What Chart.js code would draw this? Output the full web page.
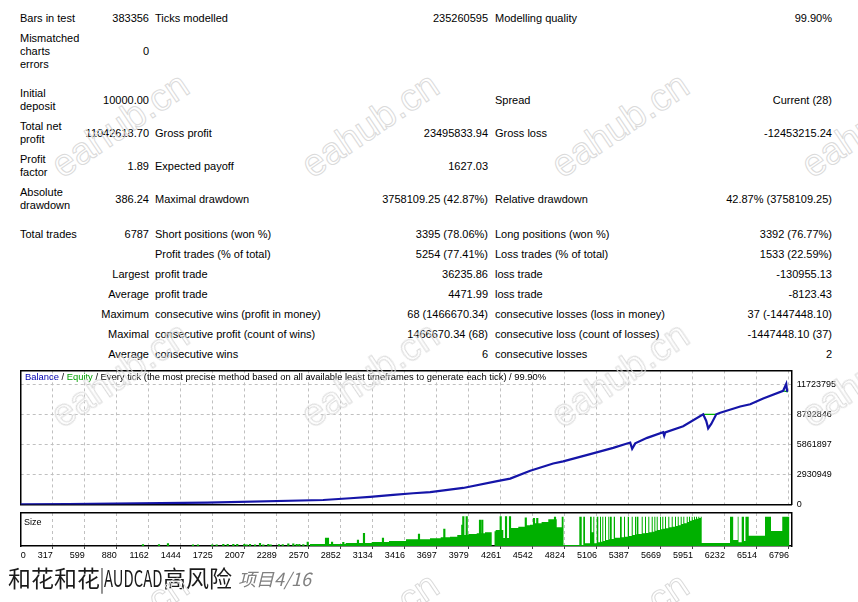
<!DOCTYPE html>
<html lang="zh">
<head>
<meta charset="utf-8">
<title>和花和花|AUDCAD高风险 - Strategy Tester Report</title>
<script src="https://cdn.jsdelivr.net/npm/chart.js@4.4.1/dist/chart.umd.min.js"></script>
<style>
html,body{margin:0;padding:0;background:#fff;}
body{width:858px;height:602px;position:relative;overflow:hidden;font-family:"Liberation Sans",Arial,sans-serif;color:#000;}
.c{position:absolute;font-size:11px;line-height:13px;white-space:pre;}
canvas{position:absolute;left:0;}
#hdr{position:absolute;left:25px;top:371px;font-size:9.4px;line-height:12px;white-space:nowrap;z-index:3;}
#sizeLbl{position:absolute;left:24px;top:516px;font-size:9px;line-height:12px;z-index:3;}
.ttl{position:absolute;top:565px;font-family:"Noto Sans CJK SC",sans-serif;font-size:23px;line-height:25px;color:#1a1a1a;white-space:nowrap;}
#sub{position:absolute;left:238px;top:567px;font-family:"Noto Sans CJK SC",sans-serif;font-size:18px;line-height:22px;color:#808080;font-style:italic;white-space:nowrap;}
.wm{position:absolute;font-size:38px;font-family:"Liberation Sans",Arial,sans-serif;color:transparent;-webkit-text-stroke:1px #dadada;white-space:nowrap;pointer-events:none;z-index:6;transform-origin:50% 50%;}
</style>
</head>
<body>
<div id="table"></div>
<div id="hdr"><span style="color:#0000b0">Balance</span> / <span style="color:#00a000">Equity</span> / Every tick (the most precise method based on all available least timeframes to generate each tick) / 99.90%</div>
<canvas id="main" width="858" height="155" style="top:360px;width:858px;height:155px;"></canvas>
<canvas id="size" width="858" height="62" style="top:505px;width:858px;height:62px;"></canvas>
<div id="sizeLbl">Size</div>
<div class="ttl" style="left:8px;">和花和花</div>
<div class="ttl" style="left:100px;transform:scaleX(0.645);transform-origin:0 50%;">|AUDCAD</div>
<div class="ttl" style="left:163px;">高风险</div>
<div id="sub">项目4/16</div>
<div id="wms"></div>
<script>
// ---------------- DATA ----------------
const xTickLabels = ['0','317','599','880','1162','1444','1725','2007','2289','2570','2852','3134','3416','3697','3979','4261','4542','4824','5106','5387','5669','5951','6232','6514','6796'];
const yTickValues = [0, 2930949, 5861897, 8792846, 11723795];

// balance curve (trade number, balance)
const balanceTrades = [0, 451, 1676, 2696, 2934, 3110, 3313, 3489, 3639, 3929, 4228, 4343, 4519, 4721, 4809, 5047, 5249, 5399, 5416, 5443, 5548, 5689, 5698, 5707, 5865, 6041, 6068, 6085, 6112, 6156, 6191, 6367, 6455, 6569, 6745, 6772, 6780, 6787];
const balanceValues = [10000, 50000, 200000, 450000, 620000, 765000, 950000, 1110000, 1230000, 1630000, 2300000, 2550000, 3320000, 4030000, 4240000, 4950000, 5560000, 6080000, 5470000, 6000000, 6540000, 7100000, 6750000, 7080000, 7680000, 8850000, 8200000, 7470000, 7900000, 8850000, 9000000, 9610000, 9830000, 10390000, 11150000, 11830000, 11052618, 11052618];

// equity where it separates from balance (null = hidden behind balance)
const equityTrades = [6041, 6156, 6160, 6745, 6787];
const equityValues = [8850000, 8850000, null, 11150000, 11052618];

// size panel: individual trades with larger lots (bars)
const spikeTrades = [1111, 1252, 1331, 1551, 1595, 1721, 1760, 1818, 1857, 1906, 1941, 2003, 2024, 2053, 2097, 2141, 2170, 2214, 2235, 2308, 2341, 2390, 2434, 2464, 2487, 2522, 2561, 2722, 2739, 2775, 2874, 3003, 3056, 3223, 3540, 3763, 3921, 3930, 3960, 4077, 4097, 4259, 4306, 4341, 4480, 4552, 4581, 4737];
const spikeLots = [2.5, 2.5, 4, 2, 2, 2, 2, 3, 3, 3, 3, 3, 2, 3, 2, 4.5, 2, 3, 2, 2.5, 2.5, 3.5, 3.5, 3, 3, 2.5, 6.5, 13.6, 13.6, 6.8, 6.3, 10.2, 21.7, 13.6, 20.5, 29, 35.8, 50, 50, 44.4, 44.4, 50, 50, 50, 48, 47, 47, 49.5];

// size panel: running lot level (each value holds until the next trade listed)
const sizeStepTrades = [2580, 2895, 3124, 3276, 3426, 3637, 3731, 3813, 3877, 3974, 4048, 4121, 4180, 4205, 4215, 4282, 4333, 4350, 4414, 4473, 4517, 4560, 4619, 4678, 4752, 4796, 4812,
  4951, 4972, 4986, 5001, 5045, 5060, 5074, 5083, 5104, 5118, 5133, 5142, 5153, 5162, 5177, 5186, 5206, 5215, 5221, 5236, 5254, 5265, 5309, 5324, 5344, 5353, 5377, 5388, 5412, 5421, 5441, 5450, 5456, 5471, 5500, 5509, 5529, 5538, 5558, 5567, 5588, 5597, 5611, 5620, 5632, 5641, 5661, 5670, 5681, 5690, 5705, 5714, 5734, 5743, 5764, 5773, 5793, 5802, 5817, 5826, 5843, 5852, 5866, 5875, 5896, 5905, 5916, 5925, 5940, 5949, 5960, 5969, 5978, 5987, 5998, 6007, 6019, 6028,
  6277, 6305, 6345, 6352, 6380, 6400, 6413, 6442, 6585, 6638, 6737, 6752, 6800];
const sizeStepLots = [1.7, 3.4, 5.1, 6.8, 8.5, 11.4, 13.1, 14.8, 15.9, 18.8, 20.5, 21.7, 23.4, 0, 25, 27.3, 13.6, 29, 30.7, 32.9, 35.3, 36.3, 38.7, 41, 45.6, 31.9, 50,
  1.7, 50, 1.7, 50, 4.6, 50, 23.4, 50, 4.6, 50, 6.3, 50, 7.3, 50, 8.5, 50, 10.2, 50, 11.4, 50, 11.9, 50, 14.2, 50, 14.8, 50, 15.9, 50, 17.1, 50, 18.8, 50, 20, 50, 20.5, 50, 21.7, 50, 22.2, 50, 23.4, 50, 24.4, 50, 26.1, 50, 27.3, 50, 28.5, 50, 29.5, 50, 30.2, 50, 31.9, 50, 32.9, 50, 34.1, 50, 35.3, 50, 37.5, 50, 38.7, 50, 41, 50, 43.2, 50, 44.4, 50, 45.6, 50, 46.6, 50, 47.8, 50,
  5.1, 50, 10.2, 50, 6.3, 50, 8.5, 50, 17.6, 50, 25.6, 50, 50];

// report table: [text, x, centerY, align]
const tableCells = [
  ['Bars in test',20,18,'l'],['383356',149,18,'r'],['Ticks modelled',155,18,'l'],['235260595',488,18,'r'],['Modelling quality',495,18,'l'],['99.90%',832,18,'r'],
  ['Mismatched\ncharts\nerrors',20,51,'l'],['0',149,51,'r'],
  ['Initial\ndeposit',20,99.5,'l'],['10000.00',149,100,'r'],['Spread',495,100,'l'],['Current (28)',832,100,'r'],
  ['Total net\nprofit',20,132.5,'l'],['11042618.70',149,133,'r'],['Gross profit',155,133,'l'],['23495833.94',488,133,'r'],['Gross loss',495,133,'l'],['-12453215.24',832,133,'r'],
  ['Profit\nfactor',20,165.5,'l'],['1.89',149,166,'r'],['Expected payoff',155,166,'l'],['1627.03',488,166,'r'],
  ['Absolute\ndrawdown',20,198.5,'l'],['386.24',149,199,'r'],['Maximal drawdown',155,199,'l'],['3758109.25 (42.87%)',488,199,'r'],['Relative drawdown',495,199,'l'],['42.87% (3758109.25)',832,199,'r'],
  ['Total trades',20,234,'l'],['6787',149,234,'r'],['Short positions (won %)',155,234,'l'],['3395 (78.06%)',488,234,'r'],['Long positions (won %)',495,234,'l'],['3392 (76.77%)',832,234,'r'],
  ['Profit trades (% of total)',155,254,'l'],['5254 (77.41%)',488,254,'r'],['Loss trades (% of total)',495,254,'l'],['1533 (22.59%)',832,254,'r'],
  ['Largest',149,274,'r'],['profit trade',155,274,'l'],['36235.86',488,274,'r'],['loss trade',495,274,'l'],['-130955.13',832,274,'r'],
  ['Average',149,294,'r'],['profit trade',155,294,'l'],['4471.99',488,294,'r'],['loss trade',495,294,'l'],['-8123.43',832,294,'r'],
  ['Maximum',149,314,'r'],['consecutive wins (profit in money)',155,314,'l'],['68 (1466670.34)',488,314,'r'],['consecutive losses (loss in money)',495,314,'l'],['37 (-1447448.10)',832,314,'r'],
  ['Maximal',149,334,'r'],['consecutive profit (count of wins)',155,334,'l'],['1466670.34 (68)',488,334,'r'],['consecutive loss (count of losses)',495,334,'l'],['-1447448.10 (37)',832,334,'r'],
  ['Average',149,354,'r'],['consecutive wins',155,354,'l'],['6',488,354,'r'],['consecutive losses',495,354,'l'],['2',832,354,'r']
];

// ---------------- TABLE ----------------
const tbl = document.getElementById('table');
tableCells.forEach(([txt, x, cy, al]) => {
  const d = document.createElement('div');
  d.className = 'c';
  d.textContent = txt;
  const lines = txt.split('\n').length;
  d.style.top = (cy - lines * 13 / 2) + 'px';
  if (al === 'r') { d.style.right = (858 - x) + 'px'; d.style.textAlign = 'right'; }
  else d.style.left = x + 'px';
  tbl.appendChild(d);
});

// watermarks
const wms = document.getElementById('wms');
[125, 375, 625].forEach(cy => [120, 370, 620, 870].forEach(cx => {
  const w = document.createElement('div');
  w.className = 'wm';
  w.textContent = 'eahub.cn';
  w.style.left = cx + 'px'; w.style.top = cy + 'px';
  w.style.transform = 'translate(-50%,-50%) rotate(-34deg)';
  wms.appendChild(w);
}));

// ---------------- CHARTS ----------------
const X_MIN = 35, X_MAX = 6820;
const Y_MAX = 13150000;
const SIZE_MAX = 56.3;
const ZERO_LABEL_POS = 79;
const xTickPositions = xTickLabels.map((l, i) => i === 0 ? ZERO_LABEL_POS : Number(l));
const FONT = {family: '"Liberation Sans", Arial, sans-serif', size: 9};
const GRID = ctx => (ctx.index === 0 ? 'rgba(0,0,0,0)' : '#c0c0c0');

function borderAxis(position, extra) {
  const horiz = position === 'top' || position === 'bottom';
  return Object.assign({
    type: 'linear', position, min: 0, max: 1, offset: false,
    grid: {display: false, drawTicks: false, offset: false},
    ticks: {display: false},
    border: {display: true, color: '#000', width: 1.5},
    afterFit: s => { if (horiz) s.height = 0; else s.width = 0; }
  }, extra || {});
}

const common = {
  responsive: false, animation: false, events: [],
  plugins: {legend: {display: false}, tooltip: {enabled: false}, title: {display: false}}
};

new Chart(document.getElementById('main'), {
  type: 'line',
  data: {datasets: [
    {label: 'Balance', data: balanceTrades.map((t, i) => ({x: t, y: balanceValues[i]})),
     borderColor: '#1515a8', borderWidth: 2.2, pointRadius: 0, tension: 0, fill: false},
    {label: 'Equity', data: equityTrades.map((t, i) => ({x: t, y: equityValues[i]})),
     borderColor: '#00b000', borderWidth: 1.2, pointRadius: 0, tension: 0, fill: false, spanGaps: false}
  ]},
  options: Object.assign({}, common, {
    layout: {padding: {left: 20.7, top: 8, right: 0, bottom: 4}},
    scales: {
      x: {type: 'linear', position: 'bottom', min: X_MIN, max: X_MAX, offset: false,
          afterBuildTicks: s => { s.ticks = xTickPositions.map(v => ({value: v})); },
          ticks: {display: false},
          grid: {color: GRID, lineWidth: 1, drawTicks: false, offset: false},
          border: {display: true, color: '#000', width: 1.5, dash: [3, 3]},
          afterFit: s => { s.height = 0; }},
      xTop: borderAxis('top', {min: X_MIN, max: X_MAX}),
      y: {type: 'linear', position: 'right', min: 0, max: Y_MAX,
          afterBuildTicks: s => { s.ticks = yTickValues.map(v => ({value: v})); },
          ticks: {font: FONT, color: '#000', padding: 5, callback: v => String(v)},
          grid: {color: GRID, lineWidth: 1, drawTicks: false},
          border: {display: true, color: '#000', width: 1.5, dash: [3, 3]},
          afterFit: s => { s.width = 66.3; }},
      yLeft: borderAxis('left')
    }
  })
});

new Chart(document.getElementById('size'), {
  type: 'line',
  data: {datasets: [
    {type: 'bar', label: 'Size trades', data: spikeTrades.map((t, i) => ({x: t, y: spikeLots[i]})),
     backgroundColor: '#00b000', borderWidth: 0, barThickness: 1.5},
    {label: 'Size', data: sizeStepTrades.map((t, i) => ({x: t, y: sizeStepLots[i]})),
     stepped: 'after', fill: 'origin', backgroundColor: '#00b000', borderColor: '#00b000', borderWidth: 0, pointRadius: 0}
  ]},
  options: Object.assign({}, common, {
    layout: {padding: {left: 20.7, top: 8, right: 0, bottom: 0}},
    scales: {
      x: {type: 'linear', position: 'bottom', min: X_MIN, max: X_MAX, offset: false,
          afterBuildTicks: s => { s.ticks = xTickPositions.map(v => ({value: v})); },
          ticks: {font: FONT, color: '#000', align: 'end', padding: 1, autoSkip: false, maxRotation: 0, minRotation: 0,
                  callback: (v, i) => xTickLabels[i]},
          grid: {color: GRID, lineWidth: 1, drawTicks: true, tickLength: 3, offset: false,
                 tickColor: ctx => (ctx.index === 0 ? 'rgba(0,0,0,0)' : '#444'), tickBorderDash: []},
          border: {display: true, color: '#000', width: 1.5, dash: [3, 3]},
          afterFit: s => { s.height = 21; }},
      xTop: borderAxis('top', {min: X_MIN, max: X_MAX}),
      y: {type: 'linear', position: 'left', min: 0, max: SIZE_MAX,
          grid: {display: false, drawTicks: false}, ticks: {display: false},
          border: {display: true, color: '#000', width: 1.5},
          afterFit: s => { s.width = 0; }},
      yRight: borderAxis('right', {afterFit: s => { s.width = 66.3; }})
    }
  })
});
</script>
</body>
</html>
